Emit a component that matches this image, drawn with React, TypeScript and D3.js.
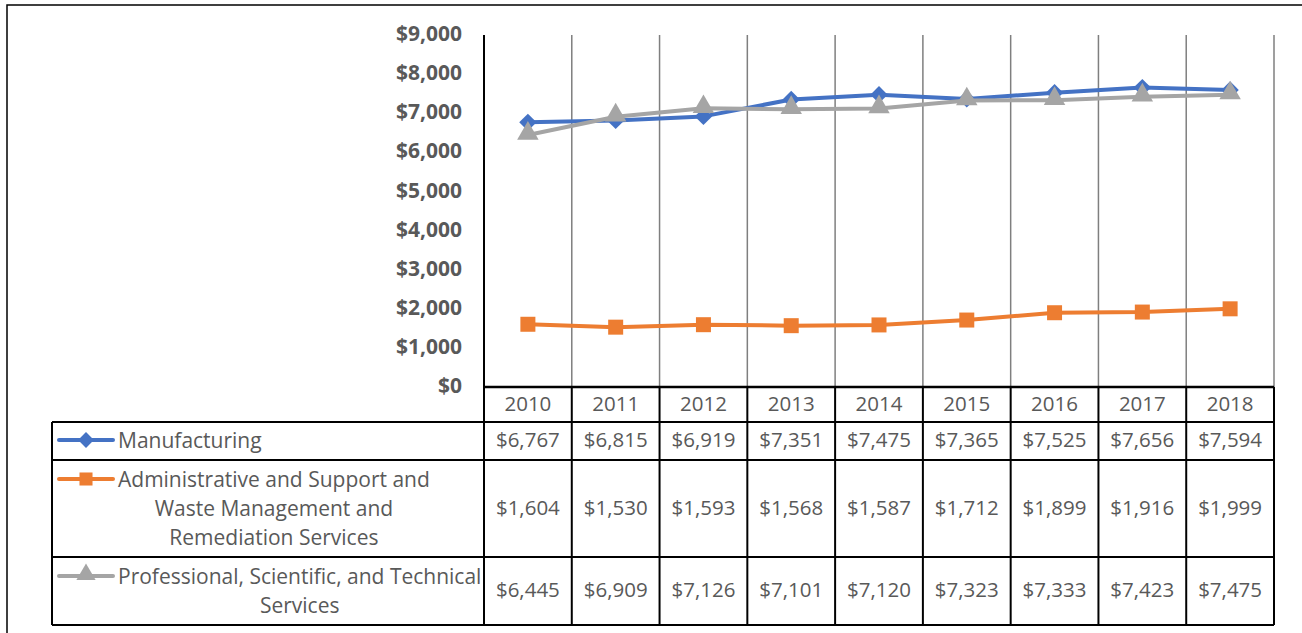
import React, { useEffect, useRef } from "react";
import * as d3 from "d3";

const years = ["2010", "2011", "2012", "2013", "2014", "2015", "2016", "2017", "2018"];
const manufacturing = [6767, 6815, 6919, 7351, 7475, 7365, 7525, 7656, 7594];
const adminSupport = [1604, 1530, 1593, 1568, 1587, 1712, 1899, 1916, 1999];
const professional = [6445, 6909, 7126, 7101, 7120, 7323, 7333, 7423, 7475];
const seriesNames = [
  ["Manufacturing"],
  ["Administrative and Support and", "Waste Management and", "Remediation Services"],
  ["Professional, Scientific, and Technical", "Services"],
];
const seriesColors = ["#4472C4", "#ED7D31", "#A5A5A5"];
const seriesMarkers = ["diamond", "square", "triangle"];
const yTicks = [0, 1000, 2000, 3000, 4000, 5000, 6000, 7000, 8000, 9000];

const W = 1302;
const H = 633;
const FONT = "'Open Sans', 'Noto Sans', sans-serif";
const TXT = "#595959";

// square rotated 45 degrees; size = area
const symbolRhombus = {
  draw(context: any, size: number) {
    const r = Math.sqrt(size / 2);
    context.moveTo(0, -r);
    context.lineTo(r, 0);
    context.lineTo(0, r);
    context.lineTo(-r, 0);
    context.closePath();
  },
};

export default function App() {
  const ref = useRef<SVGSVGElement | null>(null);

  useEffect(() => {
    const svg = d3.select(ref.current);
    svg.selectAll("*").remove();

    const plotL = 484, plotR = 1274, plotT = 35, plotB = 387;
    const x = d3.scaleBand<string>().domain(years).range([plotL, plotR]);
    const y = d3.scaleLinear().domain([0, 9000]).range([plotB, plotT]);
    const fmt = (v: number) => "$" + d3.format(",")(v);

    // outer frame
    svg.append("rect").attr("x", 7).attr("y", 5).attr("width", 1400).attr("height", 700)
      .attr("fill", "white").attr("stroke", "#000").attr("stroke-width", 1.5);

    // vertical grid lines
    years.forEach((yr, i) => {
      if (i === 0) return;
      svg.append("line").attr("x1", x(yr)!).attr("x2", x(yr)!).attr("y1", plotT).attr("y2", plotB)
        .attr("stroke", "#7f7f7f").attr("stroke-width", 1.5);
    });
    svg.append("line").attr("x1", plotR).attr("x2", plotR).attr("y1", plotT).attr("y2", plotB)
      .attr("stroke", "#7f7f7f").attr("stroke-width", 1.5);
    // left axis
    svg.append("line").attr("x1", plotL).attr("x2", plotL).attr("y1", plotT).attr("y2", plotB)
      .attr("stroke", "#000").attr("stroke-width", 2);

    // y labels
    svg.append("g").selectAll("text").data(yTicks).join("text")
      .attr("x", 462).attr("y", (d) => y(d) - 1.5).attr("dy", "0.36em")
      .attr("text-anchor", "end").attr("font-family", FONT).attr("font-weight", 700)
      .attr("font-size", 21).attr("fill", TXT).text((d) => fmt(d));

    // table
    const colL = 52;
    const rowEdges = [422, 460, 557, 625];
    const headerTop = plotB;
    const tbl = svg.append("g");
    tbl.append("line").attr("x1", plotL).attr("x2", plotR).attr("y1", headerTop).attr("y2", headerTop)
      .attr("stroke", "#000").attr("stroke-width", 2.5);
    years.forEach((yr) => {
      tbl.append("line").attr("x1", x(yr)!).attr("x2", x(yr)!).attr("y1", headerTop).attr("y2", rowEdges[0])
        .attr("stroke", "#000").attr("stroke-width", 2);
    });
    tbl.append("line").attr("x1", plotR).attr("x2", plotR).attr("y1", headerTop).attr("y2", rowEdges[0])
      .attr("stroke", "#000").attr("stroke-width", 2);
    rowEdges.forEach((ry) => {
      tbl.append("line").attr("x1", colL).attr("x2", plotR).attr("y1", ry).attr("y2", ry)
        .attr("stroke", "#000").attr("stroke-width", 2);
    });
    [colL, ...years.map((yr) => x(yr)!), plotR].forEach((vx) => {
      tbl.append("line").attr("x1", vx).attr("x2", vx).attr("y1", rowEdges[0]).attr("y2", rowEdges[3])
        .attr("stroke", "#000").attr("stroke-width", 2);
    });

    // header labels
    tbl.selectAll("text.yr").data(years).join("text").attr("class", "yr")
      .attr("x", (d) => x(d)! + x.bandwidth() / 2).attr("y", 404).attr("dy", "0.36em")
      .attr("text-anchor", "middle").attr("font-family", FONT).attr("font-size", 20.5)
      .attr("fill", TXT).text((d) => d);

    const allSeries = [manufacturing, adminSupport, professional];
    const valueY = [440, 508, 590];
    const firstLineY = [440, 479, 576];
    allSeries.forEach((vals, si) => {
      tbl.append("g").selectAll("text").data(vals).join("text")
        .attr("x", (_d, i) => x(years[i])! + x.bandwidth() / 2).attr("y", valueY[si]).attr("dy", "0.36em")
        .attr("text-anchor", "middle").attr("font-family", FONT).attr("font-size", 20.5)
        .attr("fill", TXT).text((d) => fmt(d));
    });

    const symType = (m: string): any =>
      m === "diamond" ? symbolRhombus : m === "square" ? d3.symbolSquare : d3.symbolTriangle;
    const symSize = (m: string, big: boolean) =>
      m === "diamond" ? (big ? 150 : 125) : m === "square" ? (big ? 225 : 170) : big ? 200 : 160;
    const dyOf = (m: string) => (m === "triangle" ? -1.5 : 0);

    // legend entries
    seriesNames.forEach((lines, si) => {
      const ly = firstLineY[si];
      const g = tbl.append("g");
      g.append("line").attr("x1", 59).attr("x2", 113).attr("y1", ly).attr("y2", ly)
        .attr("stroke", seriesColors[si]).attr("stroke-width", 4).attr("stroke-linecap", "round");
      g.append("path").attr("d", d3.symbol().type(symType(seriesMarkers[si])).size(symSize(seriesMarkers[si], false))()!)
        .attr("transform", `translate(86,${ly + dyOf(seriesMarkers[si])})`)
        .attr("fill", seriesColors[si]);
      const texts = g.selectAll("text").data(lines).join("text")
        .attr("y", (_d, i) => ly + i * 29).attr("dy", "0.36em")
        .attr("font-family", FONT).attr("font-size", 21).attr("fill", TXT).text((d) => d);
      let maxW = 0;
      texts.each(function () {
        maxW = Math.max(maxW, (this as SVGTextElement).getComputedTextLength());
      });
      texts.attr("text-anchor", "middle").attr("x", 118 + maxW / 2);
    });

    // lines and markers
    const line = d3.line<number>().x((_d, i) => x(years[i])! + x.bandwidth() / 2).y((d) => y(d));
    [0, 1, 2].forEach((si) => {
      const vals = allSeries[si];
      svg.append("path").attr("d", line(vals)!).attr("fill", "none")
        .attr("stroke", seriesColors[si]).attr("stroke-width", 4).attr("stroke-linejoin", "round");
      svg.append("g").selectAll("path").data(vals).join("path")
        .attr("d", d3.symbol().type(symType(seriesMarkers[si])).size(symSize(seriesMarkers[si], true))()!)
        .attr("transform", (d, i) => `translate(${x(years[i])! + x.bandwidth() / 2},${y(d) + dyOf(seriesMarkers[si])})`)
        .attr("fill", seriesColors[si]);
    });
  }, []);

  return (
    <svg ref={ref} width={W} height={H} style={{ position: "absolute", left: 0, top: 0, background: "white" }} />
  );
}
